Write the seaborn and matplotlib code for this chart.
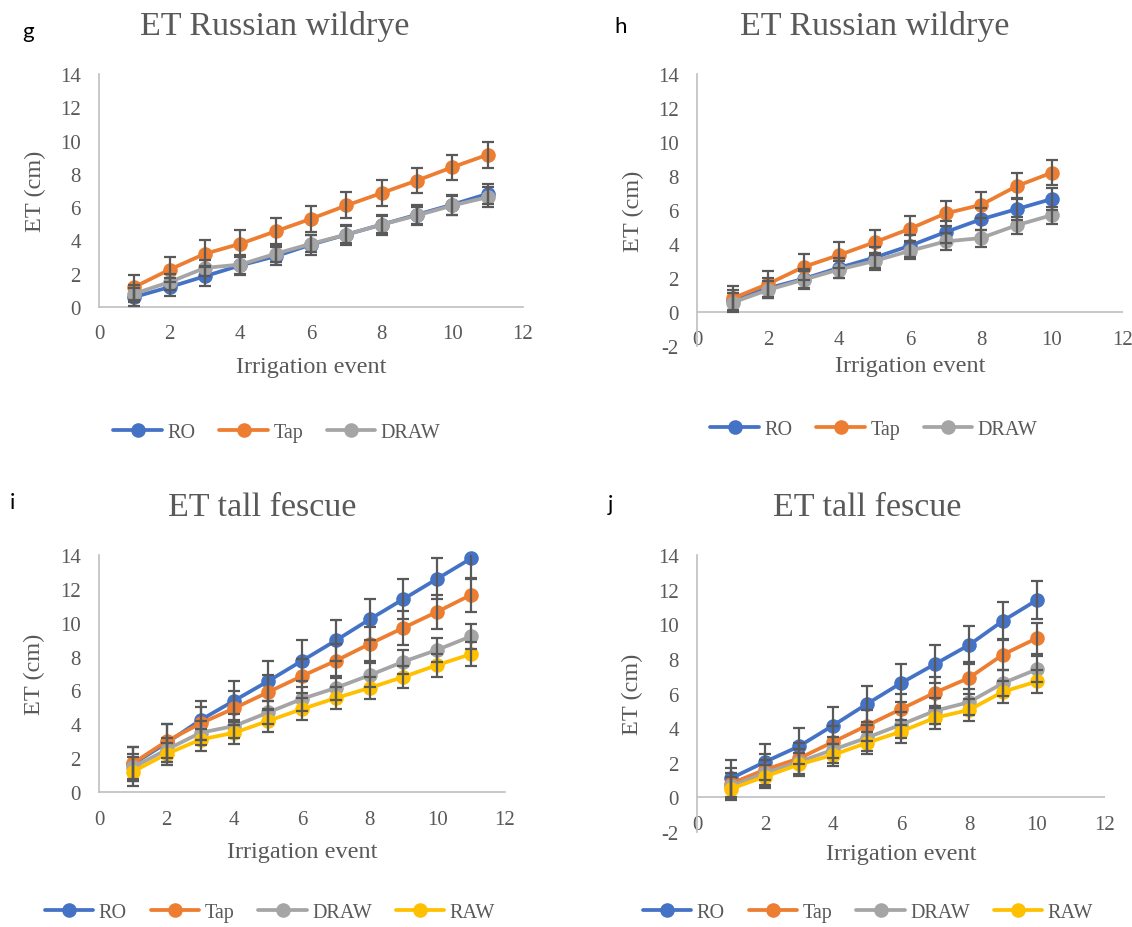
import numpy as np
import pandas as pd
import matplotlib
matplotlib.use("Agg")
import matplotlib.pyplot as plt
import seaborn as sns
from matplotlib.lines import Line2D

# ET per irrigation event
waters = ["RO", "Tap", "DRAW", "RAW"]
colors = {"RO": "#4472C4", "Tap": "#ED7D31", "DRAW": "#A5A5A5", "RAW": "#FFC000"}

# g : Russian wildrye (first run)
g_x = [1, 2, 3, 4, 5, 6, 7, 8, 9, 10, 11]
g_ro = [0.6, 1.2, 1.85, 2.5, 3.05, 3.75, 4.35, 4.95, 5.55, 6.15, 6.8]
g_tap = [1.2, 2.25, 3.2, 3.8, 4.55, 5.3, 6.1, 6.85, 7.6, 8.4, 9.15]
g_draw = [0.8, 1.5, 2.35, 2.55, 3.2, 3.8, 4.35, 4.95, 5.5, 6.1, 6.6]
g_ro_err = [0.55, 0.55, 0.6, 0.55, 0.55, 0.6, 0.6, 0.6, 0.6, 0.6, 0.6]
g_tap_err = [0.75, 0.75, 0.8, 0.8, 0.78, 0.78, 0.78, 0.77, 0.77, 0.76, 0.78]
g_draw_err = [0.5, 0.5, 0.5, 0.55, 0.5, 0.5, 0.5, 0.5, 0.5, 0.55, 0.6]

# h : Russian wildrye (second run)
h_x = [1, 2, 3, 4, 5, 6, 7, 8, 9, 10]
h_ro = [0.7, 1.4, 1.95, 2.6, 3.2, 3.9, 4.7, 5.45, 6.05, 6.65]
h_tap = [0.8, 1.65, 2.65, 3.35, 4.1, 4.9, 5.8, 6.3, 7.4, 8.2]
h_draw = [0.55, 1.3, 1.9, 2.5, 3.0, 3.6, 4.15, 4.35, 5.1, 5.7]
h_ro_err = [0.6, 0.6, 0.6, 0.6, 0.6, 0.65, 0.65, 0.65, 0.65, 0.65]
h_tap_err = [0.75, 0.75, 0.75, 0.75, 0.75, 0.75, 0.75, 0.75, 0.75, 0.75]
h_draw_err = [0.55, 0.5, 0.5, 0.5, 0.5, 0.5, 0.5, 0.5, 0.5, 0.5]

# i : tall fescue (first run)
i_x = [1, 2, 3, 4, 5, 6, 7, 8, 9, 10, 11]
i_ro = [1.65, 2.9, 4.25, 5.4, 6.55, 7.75, 8.95, 10.2, 11.4, 12.6, 13.8]
i_tap = [1.7, 3.0, 4.05, 4.95, 5.9, 6.85, 7.75, 8.75, 9.7, 10.65, 11.65]
i_draw = [1.45, 2.5, 3.5, 3.9, 4.7, 5.5, 6.15, 6.9, 7.7, 8.4, 9.2]
i_raw = [1.2, 2.25, 3.1, 3.5, 4.2, 4.9, 5.55, 6.15, 6.8, 7.5, 8.15]
i_ro_err = [1.0, 1.1, 1.15, 1.15, 1.2, 1.2, 1.2, 1.2, 1.2, 1.2, 1.2]
i_tap_err = [0.95, 1.0, 1.0, 1.0, 1.0, 1.0, 1.0, 1.0, 1.0, 1.0, 1.0]
i_draw_err = [0.8, 0.7, 0.7, 0.7, 0.7, 0.7, 0.7, 0.7, 0.7, 0.72, 0.75]
i_raw_err = [0.85, 0.65, 0.65, 0.65, 0.65, 0.65, 0.65, 0.65, 0.65, 0.68, 0.7]

# j : tall fescue (second run)
j_x = [1, 2, 3, 4, 5, 6, 7, 8, 9, 10]
j_ro = [1.1, 2.05, 2.95, 4.15, 5.4, 6.6, 7.7, 8.8, 10.2, 11.4]
j_tap = [0.8, 1.6, 2.25, 3.2, 4.15, 5.1, 6.05, 6.9, 8.25, 9.2]
j_draw = [0.65, 1.4, 2.05, 2.75, 3.45, 4.2, 5.0, 5.5, 6.6, 7.4]
j_raw = [0.5, 1.2, 1.9, 2.45, 3.15, 3.8, 4.6, 5.05, 6.1, 6.7]
j_ro_err = [1.05, 1.05, 1.05, 1.05, 1.05, 1.1, 1.1, 1.1, 1.1, 1.1]
j_tap_err = [0.9, 0.9, 0.9, 0.9, 0.9, 0.9, 0.9, 0.9, 0.9, 0.9]
j_draw_err = [0.75, 0.75, 0.75, 0.75, 0.75, 0.75, 0.75, 0.75, 0.75, 0.75]
j_raw_err = [0.65, 0.65, 0.65, 0.65, 0.65, 0.65, 0.65, 0.65, 0.65, 0.65]

W, H = 1132, 928
sns.set_theme(style="white")
plt.rcParams["font.family"] = ["Liberation Serif", "DejaVu Serif"]
plt.rcParams["axes.unicode_minus"] = False
txt = "#595959"
axis_col = "#BFBFBF"


def px(x, y):
    return x / W, 1 - y / H


def draw_panel(ax, x, series, errs, names, below_zero, xpad, xlab_y, ylab_x):
    df = pd.concat([pd.DataFrame({"Irrigation event": x, "ET (cm)": v, "Water": n})
                    for v, n in zip(series, names)])
    sns.lineplot(data=df, x="Irrigation event", y="ET (cm)", hue="Water",
                 hue_order=names, palette=colors, marker="o", markersize=10.5,
                 markeredgewidth=0, linewidth=2.7, errorbar=None, legend=False,
                 ax=ax, clip_on=False, zorder=3)
    for v, e in zip(series, errs):
        ax.errorbar(x, v, yerr=e, fmt="none", ecolor="#595959", elinewidth=1.6,
                    capsize=4.5, capthick=1.6, zorder=4)
    ax.set_xlim(0, 12)
    ax.set_xticks(np.arange(0, 13, 2))
    if below_zero:
        ax.set_ylim(-2, 14)
        ax.set_yticks(np.arange(-2, 15, 2))
        ax.spines["bottom"].set_visible(False)
        ax.axhline(0, color=axis_col, lw=1.2, zorder=1)
    else:
        ax.set_ylim(0, 14)
        ax.set_yticks(np.arange(0, 15, 2))
        ax.spines["bottom"].set_color(axis_col)
        ax.spines["bottom"].set_linewidth(1.2)
    ax.spines[["top", "right"]].set_visible(False)
    ax.spines["left"].set_color(axis_col)
    ax.spines["left"].set_linewidth(1.2)
    ax.tick_params(length=0, labelsize=15, labelcolor=txt)
    ax.tick_params(axis="y", pad=13)
    ax.tick_params(axis="x", pad=xpad)
    ax.set_xlabel("Irrigation event", fontsize=17.5, color=txt)
    ax.set_ylabel("ET (cm)", fontsize=17.5, color=txt)
    ax.xaxis.set_label_coords(0.5, xlab_y)
    ax.xaxis.label.set_va("center")
    ax.yaxis.set_label_coords(ylab_x, 0.5)
    ax.yaxis.label.set_va("center")


def add_legend(fig, names, cx, cy):
    handles = [Line2D([], [], color=colors[n], lw=2.7, marker="o", markersize=10.5,
                      markeredgewidth=0) for n in names]
    leg = fig.legend(handles, names, loc="center", bbox_to_anchor=px(cx, cy),
                     ncol=len(names), frameon=False, fontsize=14.5,
                     handlelength=2.4, handletextpad=0.27, columnspacing=1.2,
                     borderaxespad=0, borderpad=0)
    for t in leg.get_texts():
        t.set_color(txt)


fig = plt.figure(figsize=(W / 100, H / 100), dpi=100)
ax_g = fig.add_axes([99 / W, 1 - 308 / H, 424 / W, 233 / H])
ax_h = fig.add_axes([697 / W, 1 - 347 / H, 426 / W, 272 / H])
ax_i = fig.add_axes([99 / W, 1 - 793 / H, 406 / W, 237 / H])
ax_j = fig.add_axes([697 / W, 1 - 833 / H, 408 / W, 277 / H])

draw_panel(ax_g, g_x, [g_ro, g_tap, g_draw], [g_ro_err, g_tap_err, g_draw_err],
           waters[:3], False, 12, -0.2575, -0.151)
draw_panel(ax_h, h_x, [h_ro, h_tap, h_draw], [h_ro_err, h_tap_err, h_draw_err],
           waters[:3], True, -11.5, -0.070, -0.150)
draw_panel(ax_i, i_x, [i_ro, i_tap, i_draw, i_raw],
           [i_ro_err, i_tap_err, i_draw_err, i_raw_err],
           waters, False, 13, -0.253, -0.158)
draw_panel(ax_j, j_x, [j_ro, j_tap, j_draw, j_raw],
           [j_ro_err, j_tap_err, j_draw_err, j_raw_err],
           waters, True, -12, -0.079, -0.157)

for (cx, cy), title in [((275, 27), "ET Russian wildrye"), ((875, 27), "ET Russian wildrye"),
                        ((262, 508), "ET tall fescue"), ((867, 508), "ET tall fescue")]:
    fig.text(*px(cx, cy), title, fontsize=24.5, color=txt, ha="center", va="center")

for (cx, cy), letter in [((28, 32), "g"), ((621, 27), "h"), ((12, 503), "i"), ((610, 505), "j")]:
    fig.text(*px(cx, cy), letter, fontsize=16, color="black", ha="center", va="center",
             family=["Lato", "DejaVu Sans"])

add_legend(fig, waters[:3], 277, 433)
add_legend(fig, waters[:3], 874, 430)
add_legend(fig, waters, 270, 913)
add_legend(fig, waters, 868, 913)

fig.savefig("out.png", dpi=100, facecolor="white")
